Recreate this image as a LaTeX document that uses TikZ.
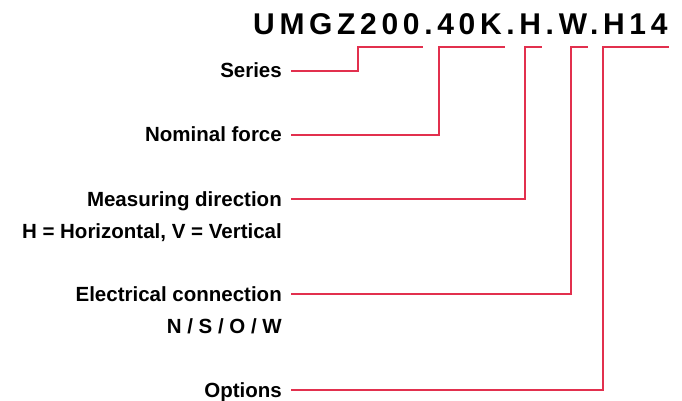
\documentclass[tikz,border=0pt]{standalone}
\usepackage{fontspec}
\setmainfont{Liberation Sans}
\usepackage{tikz}
\definecolor{codered}{RGB}{226,48,78}

\begin{document}
\begin{tikzpicture}[x=1pt,y=-1pt,
  keyname/.style={anchor=east,inner sep=0pt,text height=14pt,text depth=0pt,font=\fontsize{20.5}{24}\selectfont\bfseries},
  codeline/.style={draw=codered,line width=1.1pt}]
\useasboundingbox (0,0) rectangle (682,401);

% type code
\node [anchor=base west,inner sep=0pt,font=\fontsize{30}{36}\selectfont\bfseries\addfontfeatures{LetterSpace=15.6}] (code) at (253,35) {UMGZ200.40K.H.W.H14};

% keys
\node [keyname] (series) at (282,71) {Series};
\node [keyname] (force) at (282,135) {Nominal force};
\node [keyname] (dir) at (282,199) {Measuring direction};
\node [keyname] (dirval) at (282,231) {H\ =\ Horizontal,\ V\ =\ Vertical};
\node [keyname] (conn) at (282,294) {Electrical connection};
\node [keyname] (connval) at (282,326) {N / S / O / W};
\node [keyname] (opt) at (282,390) {Options};

% brackets under the code
\coordinate (s1) at (358,47); \coordinate (s2) at (423,47);
\coordinate (f1) at (439,47); \coordinate (f2) at (505,47);
\coordinate (d1) at (525,47); \coordinate (d2) at (542,47);
\coordinate (c1) at (571,47); \coordinate (c2) at (588,47);
\coordinate (o1) at (603,47); \coordinate (o2) at (669,47);

\draw [codeline] ([xshift=9pt]series.east) -| (s1) -- (s2);
\draw [codeline] ([xshift=9pt]force.east) -| (f1) -- (f2);
\draw [codeline] ([xshift=9pt]dir.east) -| (d1) -- (d2);
\draw [codeline] ([xshift=9pt]conn.east) -| (c1) -- (c2);
\draw [codeline] ([xshift=9pt]opt.east) -| (o1) -- (o2);
\end{tikzpicture}
\end{document}
